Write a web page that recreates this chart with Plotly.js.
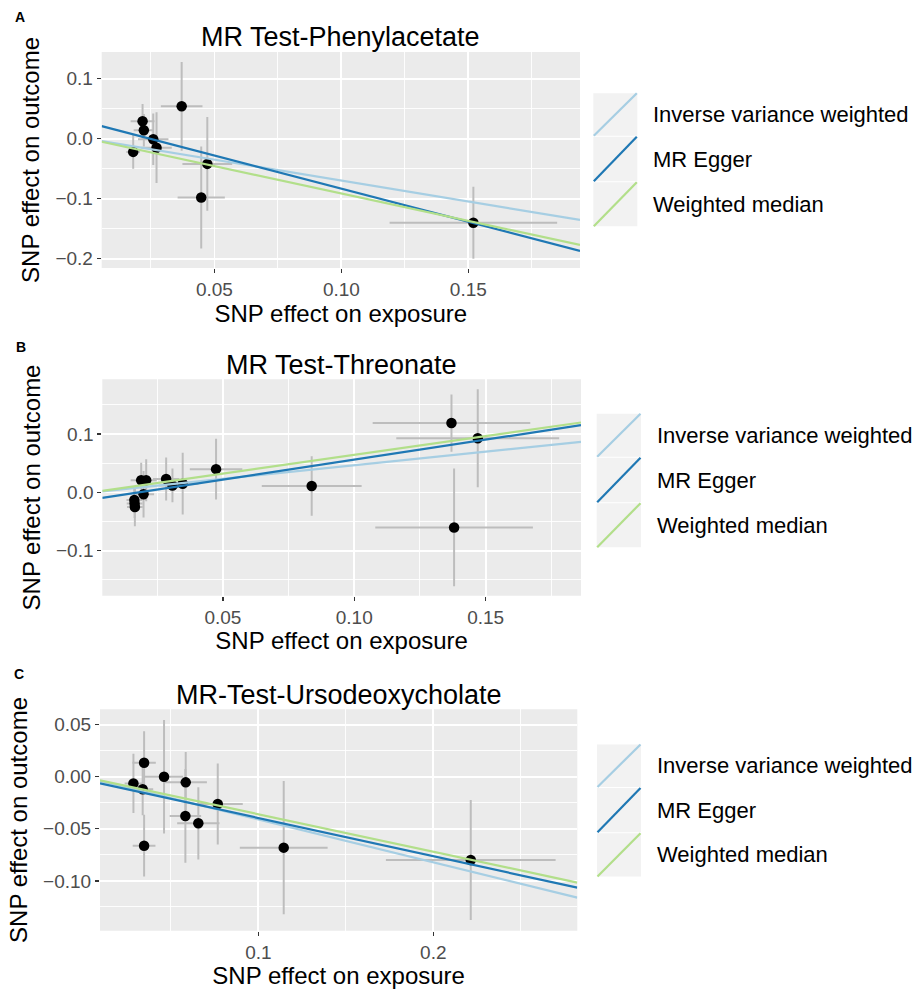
<!DOCTYPE html>
<html>
<head>
<meta charset="utf-8">
<script src="https://cdn.plot.ly/plotly-3.0.1.min.js"></script>
<style>html,body{margin:0;padding:0;background:#fff}#chart{width:917px;height:990px}</style>
</head>
<body>
<div id="chart"></div>
<script>
// ---------- data ----------
const methodNames = ['Inverse variance weighted', 'MR Egger', 'Weighted median'];
const methodColors = ['#A6CEE3', '#1F78B4', '#B2DF8A'];

// Panel A: MR Test-Phenylacetate
const phenylTitle = 'MR Test-Phenylacetate';
const phenylExposure = [0.018, 0.0217, 0.0222, 0.0259, 0.0272, 0.0371, 0.0472, 0.0448, 0.152];
const phenylOutcome = [-0.022, 0.029, 0.014, -0.001, -0.015, 0.054, -0.042, -0.098, -0.140];
const phenylSeExposure = [0.0027, 0.0047, 0.004, 0.006, 0.006, 0.0082, 0.0098, 0.0093, 0.033];
const phenylSeOutcome = [0.028, 0.029, 0.027, 0.043, 0.059, 0.074, 0.078, 0.085, 0.060];
const phenylSlopes = [-0.698, -1.104, -0.913];
const phenylIntercepts = [0, 0.0272, 0];

// Panel B: MR Test-Threonate
const threoTitle = 'MR Test-Threonate';
const threoExposure = [0.0163, 0.0164, 0.0165, 0.0189, 0.0208, 0.0198, 0.0284, 0.0308, 0.0347, 0.0474, 0.0838, 0.137, 0.147, 0.138];
const threoOutcome = [-0.013, -0.019, -0.025, 0.021, 0.021, -0.003, 0.023, 0.012, 0.015, 0.040, 0.011, 0.119, 0.093, -0.060];
const threoSeExposure = [0.003, 0.003, 0.003, 0.004, 0.004, 0.004, 0.005, 0.005, 0.006, 0.010, 0.019, 0.030, 0.031, 0.030];
const threoSeOutcome = [0.022, 0.025, 0.033, 0.030, 0.036, 0.040, 0.037, 0.029, 0.053, 0.052, 0.051, 0.049, 0.084, 0.101];
const threoSlopes = [0.466, 0.684, 0.644];
const threoIntercepts = [0, -0.0121, 0];

// Panel C: MR-Test-Ursodeoxycholate
const ursoTitle = 'MR-Test-Ursodeoxycholate';
const ursoExposure = [0.0286, 0.0339, 0.0347, 0.0347, 0.0461, 0.0585, 0.0583, 0.0657, 0.0768, 0.1145, 0.2214];
const ursoOutcome = [-0.0064, -0.0121, 0.0134, -0.0662, 0.0, -0.0054, -0.0377, -0.0447, -0.0262, -0.0681, -0.080];
const ursoSeExposure = [0.005, 0.006, 0.0067, 0.0065, 0.011, 0.0121, 0.009, 0.0121, 0.0143, 0.0251, 0.0485];
const ursoSeOutcome = [0.0285, 0.025, 0.0302, 0.0296, 0.0545, 0.029, 0.045, 0.0347, 0.0388, 0.064, 0.0576];
const ursoSlopes = [-0.411, -0.367, -0.360];
const ursoIntercepts = [0, -0.0029, 0];

const panelLetters = ['A', 'B', 'C'];
const xAxisTitle = 'SNP effect on exposure';
const yAxisTitle = 'SNP effect on outcome';

// ---------- layout helpers ----------
const W = 917, H = 990;
const px = x => x / W;
const py = y => 1 - y / H;
const FONT = '"Liberation Sans", Arial, Helvetica, sans-serif';

const panels = [
  {title: phenylTitle, x: phenylExposure, y: phenylOutcome, sx: phenylSeExposure, sy: phenylSeOutcome,
   slopes: phenylSlopes, ints: phenylIntercepts,
   box: [101.7, 580, 52, 268], xr: [0.0056, 0.194], yr: [-0.2155, 0.1445],
   xd: 0.05, xm: 0.025, xf: '.2f', yd: 0.1, ym: 0.05, yf: '.1f',
   titleY: 37, letter: [20, 17],
   legend: {x0: 593.3, x1: 637.3, rows: [92.7, 136.3, 181.7, 226.7], tx: 651}},
  {title: threoTitle, x: threoExposure, y: threoOutcome, sx: threoSeExposure, sy: threoSeOutcome,
   slopes: threoSlopes, ints: threoIntercepts,
   box: [102.3, 581, 379.3, 595.7], xr: [0.0041, 0.1863], yr: [-0.177, 0.194],
   xd: 0.05, xm: 0.025, xf: '.2f', yd: 0.1, ym: 0.05, yf: '.1f',
   titleY: 365, letter: [21, 347],
   legend: {x0: 596.7, x1: 641, rows: [413.3, 457.3, 502.7, 547.7], tx: 655}},
  {title: ursoTitle, x: ursoExposure, y: ursoOutcome, sx: ursoSeExposure, sy: ursoSeOutcome,
   slopes: ursoSlopes, ints: ursoIntercepts,
   box: [100, 577.3, 709.3, 930.7], xr: [0.0095, 0.2823], yr: [-0.1478, 0.0647],
   xd: 0.1, xm: 0.05, xf: '.1f', yd: 0.05, ym: 0.025, yf: '.2f',
   titleY: 695, letter: [19, 674],
   legend: {x0: 597, x1: 641, rows: [744, 787.5, 832.7, 877], tx: 655}}
];

const traces = [];
const layout = {
  width: W, height: H,
  margin: {l: 0, r: 0, t: 0, b: 0},
  paper_bgcolor: '#ffffff',
  showlegend: false,
  font: {family: FONT, color: '#000000'},
  annotations: [],
  shapes: []
};

panels.forEach((p, i) => {
  const sfx = i === 0 ? '' : String(i + 1);
  const xa = 'x' + sfx, ya = 'y' + sfx;
  // points with error bars
  traces.push({
    type: 'scatter', mode: 'markers', xaxis: xa, yaxis: ya,
    x: p.x, y: p.y,
    marker: {color: '#000000', size: 10.5},
    error_x: {type: 'data', array: p.sx, visible: true, color: '#bdbdbd', thickness: 2, width: 0},
    error_y: {type: 'data', array: p.sy, visible: true, color: '#bdbdbd', thickness: 2, width: 0},
    hoverinfo: 'x+y', showlegend: false
  });
  // regression lines (abline through the whole panel)
  p.slopes.forEach((b, k) => {
    const xs = p.xr.slice();
    traces.push({
      type: 'scatter', mode: 'lines', xaxis: xa, yaxis: ya,
      x: xs, y: xs.map(v => p.ints[k] + b * v),
      line: {color: methodColors[k], width: 2.2},
      name: methodNames[k], showlegend: false
    });
  });

  const common = {
    showgrid: true, gridcolor: '#ffffff', gridwidth: 1.8, zeroline: false,
    showline: false, ticks: 'outside', ticklen: 4, tickwidth: 1.3, tickcolor: '#333333',
    tickfont: {family: FONT, size: 19, color: '#4D4D4D'},
    fixedrange: true
  };
  layout['xaxis' + sfx] = Object.assign({}, common, {
    domain: [px(p.box[0]), px(p.box[1])], anchor: ya, range: p.xr,
    tick0: 0, dtick: p.xd, tickformat: p.xf,
    minor: {tick0: 0, dtick: p.xm, showgrid: true, gridcolor: '#ffffff', gridwidth: 0.9, ticks: ''},
    title: {text: xAxisTitle, font: {family: FONT, size: 24, color: '#000000'}, standoff: 4}
  });
  layout['yaxis' + sfx] = Object.assign({}, common, {
    domain: [py(p.box[3]), py(p.box[2])], anchor: xa, range: p.yr,
    tick0: 0, dtick: p.yd, tickformat: p.yf,
    minor: {tick0: 0, dtick: p.ym, showgrid: true, gridcolor: '#ffffff', gridwidth: 0.9, ticks: ''},
    title: {text: yAxisTitle, font: {family: FONT, size: 24, color: '#000000'}, standoff: 8}
  });
  // panel background
  layout.shapes.push({type: 'rect', xref: 'paper', yref: 'paper', layer: 'below',
    x0: px(p.box[0]), x1: px(p.box[1]), y0: py(p.box[3]), y1: py(p.box[2]),
    fillcolor: '#EBEBEB', line: {width: 0}});
  // panel title
  layout.annotations.push({xref: 'paper', yref: 'paper', x: px((p.box[0] + p.box[1]) / 2), y: py(p.titleY),
    xanchor: 'center', yanchor: 'middle', showarrow: false, text: p.title,
    font: {family: FONT, size: 27, color: '#000000'}});
  // panel letter
  layout.annotations.push({xref: 'paper', yref: 'paper', x: px(p.letter[0]), y: py(p.letter[1]),
    xanchor: 'center', yanchor: 'middle', showarrow: false, text: '<b>' + panelLetters[i] + '</b>',
    font: {family: FONT, size: 14, color: '#000000'}});
  // legend keys
  const L = p.legend;
  methodNames.forEach((m, k) => {
    const y0 = L.rows[k], y1 = L.rows[k + 1];
    layout.shapes.push({type: 'rect', xref: 'paper', yref: 'paper',
      x0: px(L.x0), x1: px(L.x1), y0: py(y1 - 0.5), y1: py(y0 + 0.5),
      fillcolor: '#F2F2F2', line: {width: 0}});
    layout.shapes.push({type: 'line', xref: 'paper', yref: 'paper',
      x0: px(L.x0 + 0.5), y0: py(y1 - 0.5), x1: px(L.x1 - 0.5), y1: py(y0 + 0.5),
      line: {color: methodColors[k], width: 2.2}});
    layout.annotations.push({xref: 'paper', yref: 'paper', x: px(L.tx), y: py((y0 + y1) / 2),
      xanchor: 'left', yanchor: 'middle', showarrow: false, text: m,
      font: {family: FONT, size: 22, color: '#000000'}});
  });
});

Plotly.newPlot('chart', traces, layout, {displayModeBar: false, staticPlot: true});
</script>
</body>
</html>
